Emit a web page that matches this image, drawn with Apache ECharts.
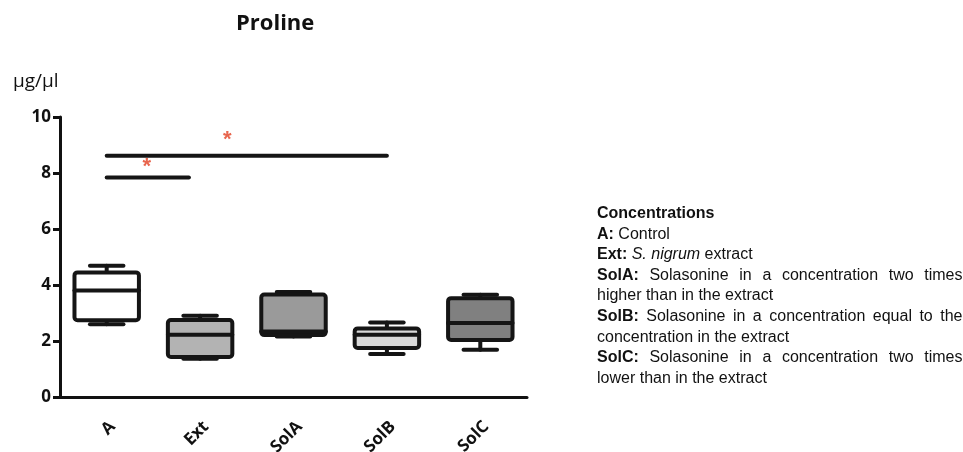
<!DOCTYPE html>
<html><head><meta charset="utf-8">
<script src="https://cdn.jsdelivr.net/npm/echarts@6/dist/echarts.min.js"></script>
<style>html,body{margin:0;padding:0;background:#fff}#c{width:963px;height:452px}</style>
</head><body><div id="c"></div>
<script>
// ---- data ----
const categories = ['A', 'Ext', 'SolA', 'SolB', 'SolC'];
const whiskerMin = [2.60, 1.37, 2.16, 1.54, 1.69];
const q1 = [2.74, 1.43, 2.21, 1.75, 2.04];
const median = [3.80, 2.22, 2.34, 2.22, 2.64];
const q3 = [4.45, 2.75, 3.66, 2.45, 3.53];
const whiskerMax = [4.69, 2.90, 3.75, 2.66, 3.65];
const boxFills = ['#ffffff', '#b3b3b3', '#9a9a9a', '#d9d9d9', '#808080'];
// significance brackets: [start position, end position, height]
const bracketStart = [0, 0];
const bracketEnd = [0.88, 3.0];
const bracketY = [7.84, 8.62];
// asterisk positions: [x position, height]
const starX = [0.43, 1.29];
const starY = [8.2, 9.17];
const yTicks = [0, 2, 4, 6, 8, 10];

const legendLines = [
  {segs: [{t: 'Concentrations', b: 1}]},
  {segs: [{t: 'A:', b: 1}, {t: 'Control'}]},
  {segs: [{t: 'Ext:', b: 1}, {t: 'S. nigrum', i: 1}, {t: 'extract'}]},
  {segs: [{t: 'SolA:', b: 1}, {t: 'Solasonine in a concentration two times'}], j: 1},
  {segs: [{t: 'higher than in the extract'}]},
  {segs: [{t: 'SolB:', b: 1}, {t: 'Solasonine in a concentration  equal to the'}], j: 1},
  {segs: [{t: 'concentration in the extract'}]},
  {segs: [{t: 'SolC:', b: 1}, {t: 'Solasonine in a concentration two times'}], j: 1},
  {segs: [{t: 'lower than in the extract'}]}
];

const boxData = categories.map((c, i) => [i, whiskerMin[i], q1[i], median[i], q3[i], whiskerMax[i]]);
const bracketData = bracketStart.map((s, i) => [s, bracketEnd[i], bracketY[i]]);
const starData = starX.map((x, i) => [x, starY[i]]);

// ---- legend text layout ----
const FS = 16, FF = '"Liberation Sans", Arial, sans-serif';
const LX = 597, RX = 962.5, LY0 = 213.5, LH = 20.6;
const mctx = document.createElement('canvas').getContext('2d');
function fontOf(w) { return (w.i ? 'italic ' : '') + (w.b ? 'bold ' : '') + FS + 'px ' + FF; }
const legendGraphics = [];
legendLines.forEach((line, li) => {
  const words = [];
  line.segs.forEach(s => s.t.split(/\s+/).filter(Boolean).forEach(t => words.push({t, b: s.b, i: s.i})));
  words.forEach(w => { mctx.font = fontOf(w); w.w = mctx.measureText(w.t).width; });
  mctx.font = fontOf({});
  let gap = mctx.measureText(' ').width;
  if (line.j && words.length > 1) {
    const tot = words.reduce((a, w) => a + w.w, 0);
    gap = (RX - LX - tot) / (words.length - 1);
  }
  let x = LX;
  words.forEach(w => {
    legendGraphics.push({type: 'text', x: x, y: LY0 + li * LH,
      style: {text: w.t, font: fontOf(w), fill: '#111', textVerticalAlign: 'middle', textAlign: 'left'}});
    x += w.w + gap;
  });
});
legendGraphics.push({type: 'text', x: 13, y: 82,
  style: {text: 'μg/μl', font: '19px "Open Sans"', fill: '#111', textVerticalAlign: 'middle', textAlign: 'left'}});

const chart = echarts.init(document.getElementById('c'));
chart.setOption({
  animation: false,
  backgroundColor: '#fff',
  title: {text: 'Proline', left: 231, top: 8,
    textStyle: {fontFamily: '"Open Sans"', fontWeight: 'bold', fontSize: 22, color: '#111'}},
  grid: {left: 60, right: 436, top: 117, bottom: 55, containLabel: false, outerBoundsMode: 'none'},
  xAxis: [{
    type: 'category', data: categories, boundaryGap: true,
    axisLine: {lineStyle: {color: '#111', width: 3}},
    axisTick: {alignWithLabel: true, length: 7, lineStyle: {color: '#111', width: 3}},
    axisLabel: {rotate: 45, margin: 21, verticalAlign: 'top', color: '#111', fontFamily: '"Open Sans"', fontWeight: 'bold', fontSize: 17},
    splitLine: {show: false}
  }, {
    type: 'value', min: -0.5, max: 4.5, show: false, position: 'top'
  }],
  yAxis: {
    type: 'value', min: 0, max: 10, interval: 2,
    axisLine: {show: true, onZero: false, lineStyle: {color: '#111', width: 3}},
    axisTick: {show: true, length: 7, lineStyle: {color: '#111', width: 3}},
    axisLabel: {margin: 9, color: '#111', fontFamily: '"Open Sans"', fontWeight: 'bold', fontSize: 17,
      formatter: v => yTicks.indexOf(v) >= 0 ? String(v) : ''},
    splitLine: {show: false}
  },
  series: [{
    type: 'custom', xAxisIndex: 0, data: boxData, z: 5,
    renderItem: function (params, api) {
      const i = api.value(0);
      const bw = api.size([1, 0])[0] * 0.69;
      const cw = bw * 0.52;
      const pMin = api.coord([i, api.value(1)]);
      const pQ1 = api.coord([i, api.value(2)]);
      const pMed = api.coord([i, api.value(3)]);
      const pQ3 = api.coord([i, api.value(4)]);
      const pMax = api.coord([i, api.value(5)]);
      const cx = pMed[0];
      const ls = {stroke: '#151515', lineWidth: 4, lineCap: 'round'};
      return {type: 'group', children: [
        {type: 'line', shape: {x1: cx, y1: pQ3[1], x2: cx, y2: pMax[1]}, style: ls},
        {type: 'line', shape: {x1: cx - cw / 2, y1: pMax[1], x2: cx + cw / 2, y2: pMax[1]}, style: ls},
        {type: 'line', shape: {x1: cx, y1: pQ1[1], x2: cx, y2: pMin[1]}, style: ls},
        {type: 'line', shape: {x1: cx - cw / 2, y1: pMin[1], x2: cx + cw / 2, y2: pMin[1]}, style: ls},
        {type: 'rect', shape: {x: cx - bw / 2, y: pQ3[1], width: bw, height: pQ1[1] - pQ3[1], r: 3},
          style: {fill: boxFills[i], stroke: '#151515', lineWidth: 4}},
        {type: 'line', shape: {x1: cx - bw / 2, y1: pMed[1], x2: cx + bw / 2, y2: pMed[1]}, style: ls}
      ]};
    }
  }, {
    type: 'custom', xAxisIndex: 1, data: bracketData, z: 6,
    renderItem: function (params, api) {
      const a = api.coord([api.value(0), api.value(2)]);
      const b = api.coord([api.value(1), api.value(2)]);
      return {type: 'line', shape: {x1: a[0], y1: a[1], x2: b[0], y2: b[1]},
        style: {stroke: '#151515', lineWidth: 4, lineCap: 'round'}};
    }
  }, {
    type: 'custom', xAxisIndex: 1, data: starData, z: 6,
    renderItem: function (params, api) {
      const p = api.coord([api.value(0), api.value(1)]);
      return {type: 'text', x: p[0], y: p[1],
        style: {text: '*', fill: '#e8664e', font: 'bold 22px "Liberation Sans"', textAlign: 'center', textVerticalAlign: 'middle'}};
    }
  }],
  graphic: legendGraphics
});
</script></body></html>
